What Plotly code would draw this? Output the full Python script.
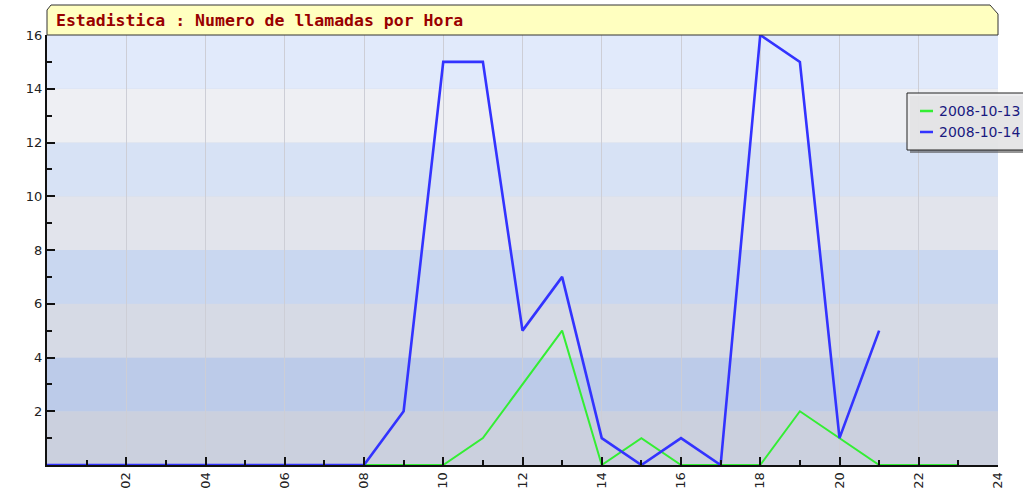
import plotly.graph_objects as go

hours_13 = list(range(24))
hours_14 = list(range(22))
calls_13 = [0, 0, 0, 0, 0, 0, 0, 0, 0, 0, 0, 1, 3, 5, 0, 1, 0, 0, 0, 2, 1, 0, 0, 0]
calls_14 = [0, 0, 0, 0, 0, 0, 0, 0, 0, 2, 15, 15, 5, 7, 1, 0, 1, 0, 16, 15, 1, 5]
series_names = ["2008-10-13", "2008-10-14"]
series_colors = ["#33ee33", "#3333ff"]
x_tick_vals = list(range(2, 25, 2))
x_tick_text = ["%02d" % v for v in x_tick_vals]
y_tick_vals = list(range(2, 17, 2))
title_text = "Estadistica : Numero de llamadas por Hora"

band_colors = ["#cbd0de", "#bccbe9", "#d6dae5", "#c9d7f0",
               "#e2e4ec", "#d7e2f5", "#eeeff3", "#e1eafb"]

W, H = 1023, 488
ML, MR, MT, MB = 47, 25, 35, 23
PW, PH = W - ML - MR, H - MT - MB

def px_x(p):
    return (p - ML) / PW

def px_y(p):
    return (H - MB - p) / PH

fig = go.Figure()
fig.add_trace(go.Scatter(x=hours_13, y=calls_13, mode="lines", name=series_names[0],
                         line=dict(color=series_colors[0], width=2), showlegend=False))
fig.add_trace(go.Scatter(x=hours_14, y=calls_14, mode="lines", name=series_names[1],
                         line=dict(color=series_colors[1], width=2.6), showlegend=False))

shapes = []
for i, c in enumerate(band_colors):
    shapes.append(dict(type="rect", xref="paper", yref="y", x0=0, x1=1, y0=2 * i, y1=2 * i + 2,
                       fillcolor=c, line=dict(width=0), layer="below"))

# title box with chamfered corners
yt = px_y(5)
yb = 1.0
x_l, x_r = 0, 1
cx_l, cy_l = 4 / PW, 5 / PH
cx_r, cy_r = 8 / PW, 9 / PH
path = (f"M {x_l},{yb} L {x_l},{yt - cy_l} L {x_l + cx_l},{yt} "
        f"L {x_r - cx_r},{yt} L {x_r},{yt - cy_r} L {x_r},{yb} Z")
shapes.append(dict(type="path", xref="paper", yref="paper", path=path,
                   fillcolor="#ffffc0", line=dict(color="#333333", width=1), layer="above"))

# legend box (shadow, frame, samples)
LX0, LY0, LX1, LY1 = 907, 93, 1040, 150
shapes.append(dict(type="rect", xref="paper", yref="paper",
                   x0=px_x(LX0 + 3), x1=px_x(LX1 + 3), y0=px_y(LY1 + 3), y1=px_y(LY0 + 3),
                   fillcolor="rgba(80,80,80,0.6)", line=dict(width=0), layer="above"))
shapes.append(dict(type="rect", xref="paper", yref="paper",
                   x0=px_x(LX0), x1=px_x(LX1), y0=px_y(LY1), y1=px_y(LY0),
                   fillcolor="rgba(236,236,238,0.92)", line=dict(color="#222222", width=1),
                   layer="above"))
annotations = [dict(x=px_x(54), y=px_y(21), xref="paper", yref="paper",
                    xanchor="left", yanchor="middle", showarrow=False,
                    text=title_text,
                    font=dict(family="DejaVu Sans Mono", size=16.5, color="#990000", weight="bold"))]
row_y = [111, 132]
for name, col, ry in zip(series_names, series_colors, row_y):
    shapes.append(dict(type="line", xref="paper", yref="paper",
                       x0=px_x(920), x1=px_x(933), y0=px_y(ry), y1=px_y(ry),
                       line=dict(color=col, width=2.5), layer="above"))
    annotations.append(dict(x=px_x(937), y=px_y(ry), xref="paper", yref="paper",
                            xanchor="left", yanchor="middle", showarrow=False, text=name,
                            font=dict(family="DejaVu Sans", size=14, color="#1a1a80")))

fig.update_layout(
    width=W, height=H,
    margin=dict(l=ML, r=MR, t=MT, b=MB, autoexpand=False),
    paper_bgcolor="white", plot_bgcolor="#d0d6e4",
    shapes=shapes, annotations=annotations,
    showlegend=False,
    font=dict(family="DejaVu Sans", size=13, color="#222222"),
)

fig.update_xaxes(range=[0, 24], tickmode="array", tickvals=x_tick_vals, ticktext=x_tick_text,
                 tickangle=-90, ticks="inside", ticklen=8, tickwidth=1.5, tickcolor="#111111",
                 showline=True, linecolor="#111111", linewidth=2,
                 showgrid=True, gridcolor="#cdced6", gridwidth=1, zeroline=False,
                 tickfont=dict(family="DejaVu Sans", size=13, color="#222222"),
                 minor=dict(tickmode="linear", tick0=0, dtick=1, ticks="inside", ticklen=5,
                            tickwidth=1.5, tickcolor="#111111", showgrid=False))
fig.update_yaxes(range=[0, 16], tickmode="array", tickvals=y_tick_vals,
                 ticks="inside", ticklen=8, tickwidth=1.5, tickcolor="#111111",
                 showline=True, linecolor="#111111", linewidth=2,
                 showgrid=False, zeroline=False,
                 tickfont=dict(family="DejaVu Sans", size=13, color="#222222"),
                 minor=dict(tickmode="linear", tick0=0, dtick=1, ticks="inside", ticklen=5,
                            tickwidth=1.5, tickcolor="#111111", showgrid=False))

fig.write_html("out.html", config={"displayModeBar": False},
               post_script="document.body.style.margin='0';document.body.style.padding='0';")
